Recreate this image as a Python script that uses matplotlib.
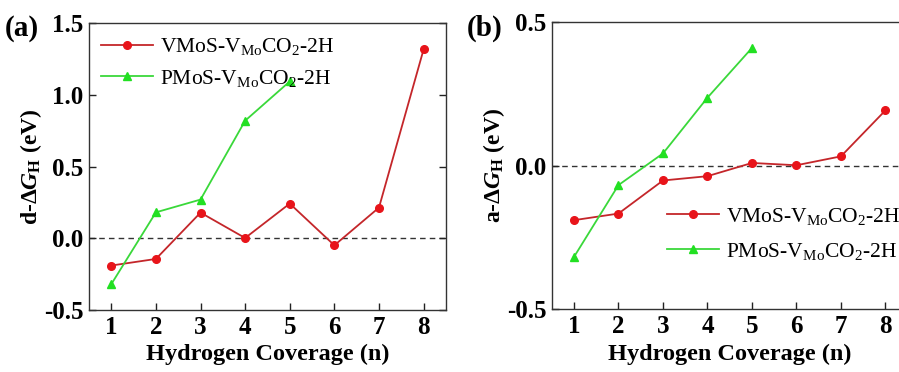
import matplotlib
matplotlib.use("Agg")
import matplotlib.pyplot as plt

# -----------------------------
# Data
# -----------------------------
coverage = [1, 2, 3, 4, 5, 6, 7, 8]
coverage_p = [1, 2, 3, 4, 5]

d_vmos = [-0.19, -0.144, 0.179, 0.002, 0.242, -0.049, 0.214, 1.317]
d_pmos = [-0.32, 0.181, 0.270, 0.820, 1.094]

a_vmos = [-0.190, -0.167, -0.052, -0.037, 0.009, 0.001, 0.032, 0.192]
a_pmos = [-0.318, -0.068, 0.042, 0.236, 0.409]

label_v = r"VMoS-V$_{\mathrm{Mo}}$CO$_2$-2H"
label_p = r"PMoS-V$_{\mathrm{Mo}}$CO$_2$-2H"

# -----------------------------
# Style
# -----------------------------
plt.rcParams["font.family"] = ["Liberation Serif", "DejaVu Serif"]
plt.rcParams["mathtext.fontset"] = "custom"
plt.rcParams["mathtext.rm"] = "Liberation Serif"
plt.rcParams["mathtext.it"] = "Liberation Serif:italic:bold"
plt.rcParams["mathtext.bf"] = "Liberation Serif:bold"

red_line = "#c4262a"
red_mark = "#e8141a"
green_line = "#3ad83a"
green_mark = "#22e022"

fig = plt.figure(figsize=(8.99, 3.72), dpi=100)
ax_a = fig.add_axes([0.099, 0.1667, 0.397, 0.771])
ax_b = fig.add_axes([0.6137, 0.1685, 0.396, 0.773])


def style_axes(ax, ylim, yticks, ylabel):
    ax.axhline(0, color="#333333", lw=1.0, ls=(0, (4, 3)), zorder=1)
    ax.set_xlim(0.5, 8.5)
    ax.set_ylim(*ylim)
    ax.set_xticks(coverage)
    ax.set_yticks(yticks)
    ax.set_yticklabels([f"{t:.1f}" for t in yticks])
    ax.tick_params(direction="in", length=5, width=1.0, colors="#222222",
                   labelsize=18, right=True, top=False, pad=4)
    for lab in ax.get_xticklabels() + ax.get_yticklabels():
        lab.set_fontweight("bold")
        lab.set_color("black")
    for sp in ax.spines.values():
        sp.set_linewidth(1.0)
        sp.set_color("#333333")
    ax.set_xlabel("Hydrogen Coverage (n)", fontsize=17.5, fontweight="bold", labelpad=4)
    ax.set_ylabel(ylabel, fontsize=17, fontweight="bold", labelpad=0)


legend_kw = dict(frameon=False, fontsize=15.5, handlelength=2.4,
                 handletextpad=0.35, borderaxespad=0.0)

# Panel (a)
ax_a.plot(coverage, d_vmos, color=red_line, lw=1.3, marker="o", ms=5.5,
          mfc=red_mark, mec=red_mark, label=label_v, zorder=3)
ax_a.plot(coverage_p, d_pmos, color=green_line, lw=1.3, marker="^", ms=6,
          mfc=green_mark, mec=green_mark, label=label_p, zorder=3)
style_axes(ax_a, (-0.5, 1.5), [-0.5, 0.0, 0.5, 1.0, 1.5],
           r"d-Δ$\mathit{G}_{\mathbf{H}}$ (eV)")
ax_a.legend(loc="upper left", bbox_to_anchor=(0.01, 0.985),
            labelspacing=0.5, **legend_kw)
fig.text(0.005, 0.905, "(a)", fontsize=21, fontweight="bold")

# Panel (b)
ax_b.plot(coverage, a_vmos, color=red_line, lw=1.3, marker="o", ms=5.5,
          mfc=red_mark, mec=red_mark, label=label_v, zorder=3)
ax_b.plot(coverage_p, a_pmos, color=green_line, lw=1.3, marker="^", ms=6,
          mfc=green_mark, mec=green_mark, label=label_p, zorder=3)
style_axes(ax_b, (-0.5, 0.5), [-0.5, 0.0, 0.5],
           r"a-Δ$\mathit{G}_{\mathbf{H}}$ (eV)")
ax_b.legend(loc="upper left", bbox_to_anchor=(0.30, 0.39),
            labelspacing=0.65, **legend_kw)
fig.text(0.519, 0.905, "(b)", fontsize=21, fontweight="bold")

fig.savefig("out.png", dpi=100)
